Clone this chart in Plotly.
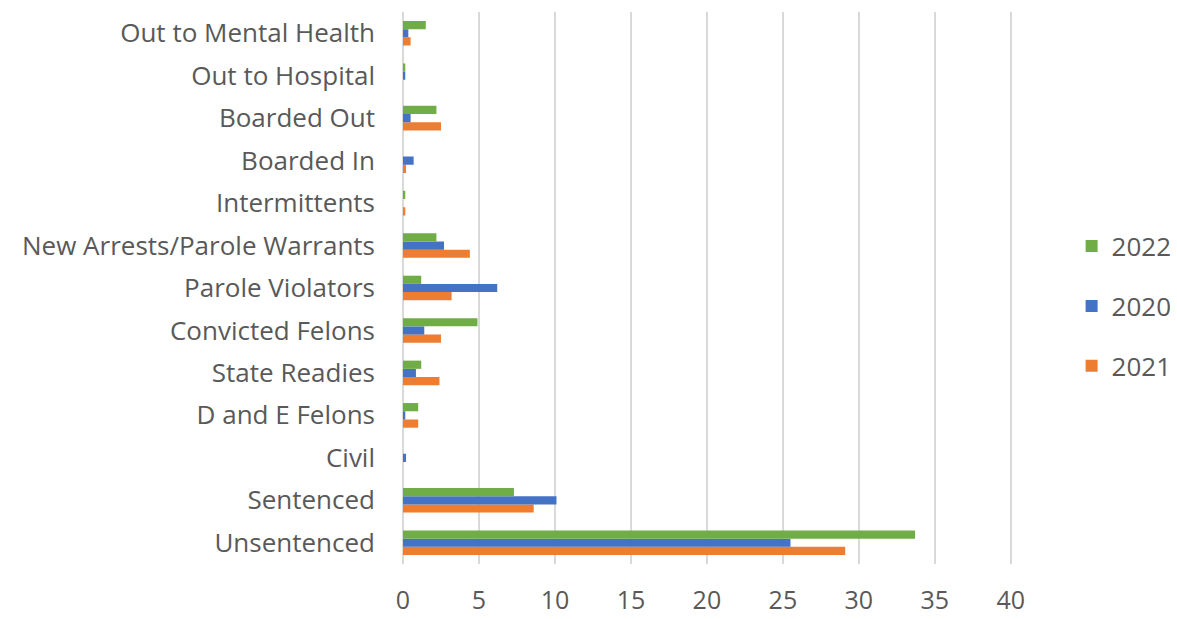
import plotly.graph_objects as go

categories = [
    "Unsentenced", "Sentenced", "Civil", "D and E Felons", "State Readies",
    "Convicted Felons", "Parole Violators", "New Arrests/Parole Warrants",
    "Intermittents", "Boarded In", "Boarded Out", "Out to Hospital",
    "Out to Mental Health",
]
values_2021 = [29.1, 8.6, 0.0, 1.0, 2.4, 2.5, 3.2, 4.4, 0.15, 0.2, 2.5, 0.0, 0.5]
values_2020 = [25.5, 10.1, 0.2, 0.15, 0.85, 1.4, 6.2, 2.7, 0.0, 0.7, 0.5, 0.15, 0.35]
values_2022 = [33.7, 7.3, 0.0, 1.0, 1.2, 4.9, 1.2, 2.2, 0.15, 0.0, 2.2, 0.15, 1.5]

# (name, values, colour, legend rank) - bars are stacked bottom-to-top in this order
series = [
    ("2021", values_2021, "#ED7D31", 3),
    ("2020", values_2020, "#4472C4", 2),
    ("2022", values_2022, "#70AD47", 1),
]

fig = go.Figure()
for name, vals, color, rank in series:
    fig.add_trace(go.Bar(
        y=categories, x=vals, name=name, orientation="h",
        marker=dict(color=color, line=dict(width=0)),
        legendgroup=name, legendrank=rank,
    ))

font_family = "Open Sans, Noto Sans, sans-serif"
label_size = 26
fig.update_layout(
    width=1177, height=619,
    margin=dict(l=403, r=0, t=12, b=55),
    paper_bgcolor="white", plot_bgcolor="white",
    barmode="group", bargap=0.42, bargroupgap=0,
    font=dict(family=font_family, size=label_size, color="#595959"),
    legend=dict(
        traceorder="grouped", tracegroupgap=23,
        x=0.874, y=0.467, xanchor="left", yanchor="middle",
        font=dict(size=label_size, color="#595959"),
        itemwidth=30,
    ),
    xaxis=dict(
        domain=[0, 0.7985],
        range=[0, 40.2], tickvals=[0, 5, 10, 15, 20, 25, 30, 35, 40],
        showgrid=True, gridcolor="#D9D9D9", gridwidth=1.5,
        zeroline=True, zerolinecolor="#D9D9D9", zerolinewidth=1.5,
        ticks="", ticklabelstandoff=19, automargin=False,
        tickfont=dict(size=25, color="#595959"),
    ),
    yaxis=dict(
        categoryorder="array", categoryarray=categories,
        ticks="", ticklabelstandoff=27, automargin=False,
        tickfont=dict(size=label_size, color="#595959"),
        showgrid=False,
    ),
)

fig.write_html("out.html")
